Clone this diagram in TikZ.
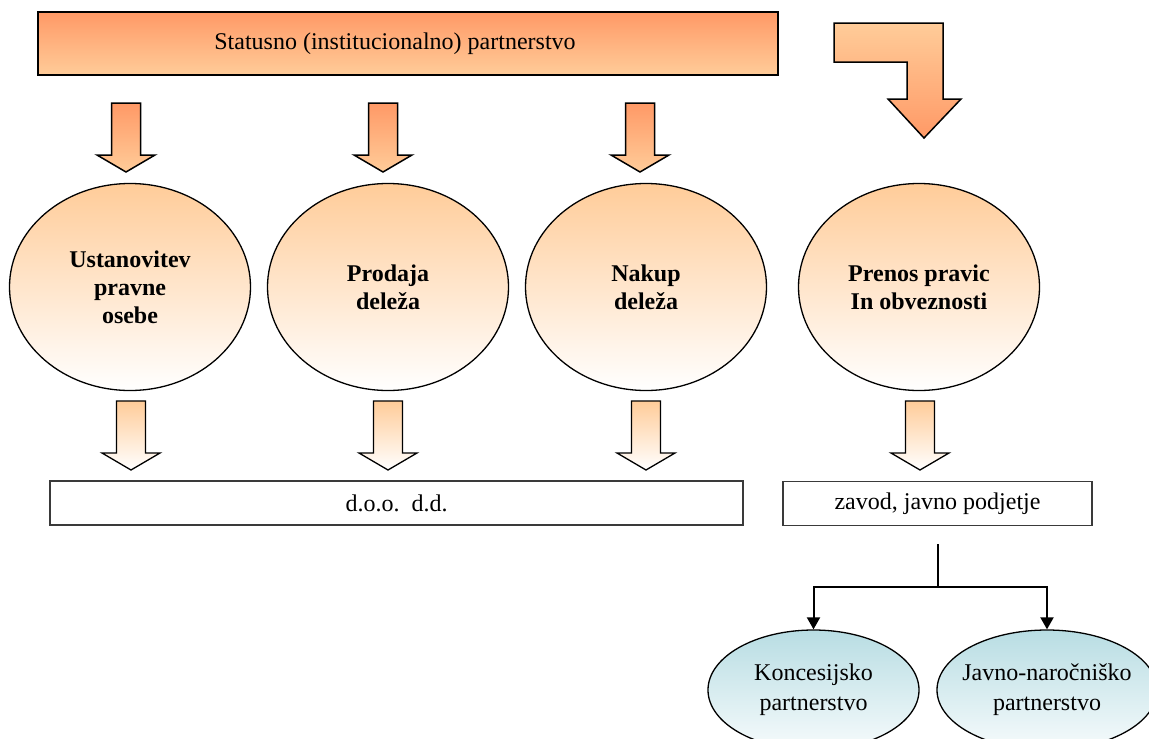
\documentclass[tikz,border=0pt]{standalone}
\usepackage{fontspec}
\setmainfont{Liberation Serif}
\usetikzlibrary{shapes.geometric,arrows.meta}

\definecolor{peachdark}{HTML}{FF9966}
\definecolor{peachlight}{HTML}{FFCC99}
\definecolor{tealtop}{HTML}{B8DDE3}
\definecolor{tealbot}{HTML}{F6FBFC}
\definecolor{boxline}{HTML}{3A3A3A}

% downward block arrow: centre x, top y, head base y, tip y, style
\newcommand{\blockdown}[5]{%
  \path[#5] ({#1-14.5},#2) -- ({#1+14.5},#2) -- ({#1+14.5},#3) -- ({#1+29},#3)
    -- (#1,#4) -- ({#1-29},#3) -- ({#1-14.5},#3) -- cycle;}

\tikzset{
  txt/.style={font=\fontsize{24}{28}\selectfont},
  smalltxt/.style={align=center, font=\fontsize{24}{30}\selectfont},
  banner/.style={draw=black, line width=1.5pt, top color=peachdark, bottom color=peachlight,
    minimum width=740pt, minimum height=63pt, inner sep=0pt},
  bigoval/.style={ellipse, draw=black, line width=1.3pt, top color=peachlight, bottom color=white,
    minimum width=241pt, minimum height=207pt, inner sep=0pt, align=center,
    font=\fontsize{24}{28}\selectfont\bfseries},
  smalloval/.style={ellipse, draw=black, line width=1.3pt, top color=tealtop, bottom color=tealbot,
    inner sep=0pt},
  outbox/.style={draw=boxline, line width=1.3pt, fill=white, minimum height=44pt, inner sep=0pt,
    font=\fontsize{24}{28}\selectfont},
  arrowin/.style={draw=black, line width=1.5pt, line join=miter, top color=peachdark, bottom color=peachlight},
  arrowout/.style={draw=black, line width=1.3pt, line join=miter, top color=peachlight, bottom color=white},
  conn/.style={draw=black, line width=2pt, -{Triangle[length=12pt,width=13pt]}},
}

\begin{document}
\begin{tikzpicture}[x=1pt, y=-1pt]
  \useasboundingbox (0,0) rectangle (1149,739);
  \clip (0,0) rectangle (1149,739);

  % heading bar
  \node[banner, label={[txt, xshift=-13pt]center:Statusno (institucionalno) partnerstvo}]
    (banner) at (408,43.5) {};

  % bent arrow at the right
  \path[draw=black, line width=1.5pt, line join=miter, top color=peachlight, bottom color=peachdark]
    (834,23) -- (943,23) -- (943,99) -- (961,99) -- (924,138) -- (888,99)
    -- (907,99) -- (907,62) -- (834,62) -- cycle;

  % arrows into the ovals
  \blockdown{126}{103}{155}{172}{arrowin}
  \blockdown{383}{103}{155}{172}{arrowin}
  \blockdown{640}{103}{155}{172}{arrowin}

  % the four ways
  \node[bigoval] (ust) at (130,287) {Ustanovitev\\pravne\\osebe};
  \node[bigoval] (pro) at (388,287) {Prodaja\\deleža};
  \node[bigoval] (nak) at (646,287) {Nakup\\deleža};
  \node[bigoval] (pre) at (919,287) {Prenos pravic\\In obveznosti};

  % arrows out of the ovals
  \blockdown{131}{401}{453}{470}{arrowout}
  \blockdown{388}{401}{453}{470}{arrowout}
  \blockdown{646}{401}{453}{470}{arrowout}
  \blockdown{920}{401}{453}{470}{arrowout}

  % resulting legal forms
  \node[outbox, minimum width=693pt] (doo) at (396.5,503) {d.o.o.\ \ d.d.};
  \node[outbox, minimum width=309pt] (zav) at (937.5,503.5) {zavod, javno podjetje};

  % partnership types (text set as centred labels so the oval keeps its size)
  \node[smalloval, minimum width=211pt, minimum height=120pt,
    label={[smalltxt, yshift=0pt]center:Koncesijsko\\partnerstvo}] (kon) at (813.5,690) {};
  \node[smalloval, minimum width=220pt, minimum height=120pt,
    label={[smalltxt, yshift=0pt]center:Javno-naročniško\\partnerstvo}] (jnp) at (1047,690) {};

  % branching connector
  \coordinate (split) at (938,544);
  \coordinate (fork) at (938,587);
  \draw[line width=2pt] (split) -- (fork);
  \draw[conn] (fork) -| (kon.north);
  \draw[conn] (fork) -| (jnp.north);
\end{tikzpicture}
\end{document}
